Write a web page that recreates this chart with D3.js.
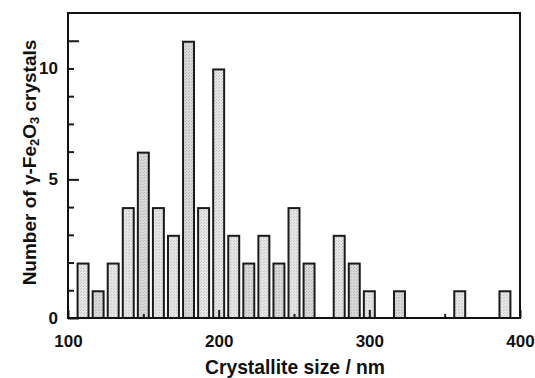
<!DOCTYPE html>
<html>
<head>
<meta charset="utf-8">
<script src="https://cdn.jsdelivr.net/npm/d3@7"></script>
<style>
  body { margin: 0; background: #fff; }
  text { font-family: "Liberation Sans", Arial, Helvetica, sans-serif; font-weight: bold; fill: #111; }
</style>
</head>
<body>
<div id="chart"></div>
<script>
// bin centres (nm) and number of crystals in each bin
const sizes = [110, 120, 130, 140, 150, 160, 170, 180, 190, 200, 210,
               220, 230, 240, 250, 260, 280, 290, 300, 320, 360, 390];
const counts = [2, 1, 2, 4, 6, 4, 3, 10, 4, 9, 3,
                2, 3, 2, 4, 2, 3, 2, 1, 1, 1, 1];
// bins drawn with the slightly darker screen
const darkBins = [120, 150, 180, 220, 240, 260, 290, 320];

const xMajor = [100, 200, 300, 400];
const xMinor = [150, 250, 350];
const yMajor = [0, 5, 10];
const yMinor = [1, 2, 3, 4, 6, 7, 8, 9];

const width = 535, height = 378;
const margin = { top: 13, right: 15, bottom: 60, left: 68 };

const svg = d3.select('#chart')
  .append('svg')
  .attr('width', width)
  .attr('height', height);

const defs = svg.append('defs');
function screen(id, base, dot) {
  const p = defs.append('pattern')
    .attr('id', id)
    .attr('patternUnits', 'userSpaceOnUse')
    .attr('width', 3)
    .attr('height', 3);
  p.append('rect').attr('width', 3).attr('height', 3).attr('fill', base);
  p.append('rect').attr('x', 0).attr('y', 0).attr('width', 1).attr('height', 1).attr('fill', dot);
  p.append('rect').attr('x', 2).attr('y', 1).attr('width', 1).attr('height', 1).attr('fill', dot);
}
screen('light', '#e6e6e6', '#c6c6c6');
screen('dark', '#d9d9d9', '#b8b8b8');

const x = d3.scaleLinear().domain([100, 400]).range([margin.left, width - margin.right]);
const y = d3.scaleLinear().domain([0, 11]).range([height - margin.bottom, margin.top]);

const halfBar = 4.3; // in nm

svg.append('g')
  .selectAll('rect')
  .data(sizes)
  .join('rect')
  .attr('x', d => x(d - halfBar) + 1)
  .attr('y', (d, i) => y(counts[i]) + 1)
  .attr('width', d => x(d + halfBar) - x(d - halfBar) - 2)
  .attr('height', (d, i) => y(0) - y(counts[i]) - 1)
  .attr('fill', d => darkBins.includes(d) ? 'url(#dark)' : 'url(#light)')
  .attr('stroke', '#1a1a1a')
  .attr('stroke-width', 2);

// x axis ticks point inward
const gx = svg.append('g').attr('transform', `translate(0,${y(0)})`);
gx.call(d3.axisBottom(x).tickValues(xMajor).tickSize(-8).tickPadding(17).tickFormat(d3.format('d')));
gx.append('g').call(d3.axisBottom(x).tickValues(xMinor).tickSize(-4).tickFormat(''));
gx.selectAll('.domain').remove();

const gy = svg.append('g').attr('transform', `translate(${x(100)},0)`);
gy.call(d3.axisLeft(y).tickValues(yMajor).tickSize(-11).tickPadding(10).tickFormat(d3.format('d')));
gy.append('g').call(d3.axisLeft(y).tickValues(yMinor).tickSize(-6).tickFormat(''));
gy.selectAll('.domain').remove();

svg.selectAll('.tick line').attr('stroke', '#1a1a1a').attr('stroke-width', 2);
svg.selectAll('.tick text')
  .attr('font-family', null)
  .attr('font-size', null)
  .style('font-size', '17px')
  .attr('fill', '#111');

// the original figure prints its "10" one step low
gy.selectAll('.tick text').filter(d => d === 10)
  .attr('dy', `${y(9) - y(10)}px`)
  .attr('dominant-baseline', 'central');
gy.selectAll('.tick text').filter(d => d !== 10)
  .attr('dy', null)
  .attr('dominant-baseline', 'central');

// frame
svg.append('rect')
  .attr('x', x(100))
  .attr('y', y(11))
  .attr('width', x(400) - x(100))
  .attr('height', y(0) - y(11))
  .attr('fill', 'none')
  .attr('stroke', '#111')
  .attr('stroke-width', 2);

svg.append('text')
  .attr('x', (x(100) + x(400)) / 2 + 1)
  .attr('y', 374)
  .attr('text-anchor', 'middle')
  .style('font-size', '19.3px')
  .text('Crystallite size / nm');

const yl = svg.append('text')
  .attr('transform', `translate(36,${(y(0) + y(11)) / 2 - 3}) rotate(-90)`)
  .attr('text-anchor', 'middle')
  .style('font-size', '19px');
yl.append('tspan').text('Number of γ-Fe');
yl.append('tspan').attr('baseline-shift', '-25%').style('font-size', '13px').text('2');
yl.append('tspan').text('O');
yl.append('tspan').attr('baseline-shift', '-25%').style('font-size', '13px').text('3');
yl.append('tspan').text(' crystals');
</script>
</body>
</html>
